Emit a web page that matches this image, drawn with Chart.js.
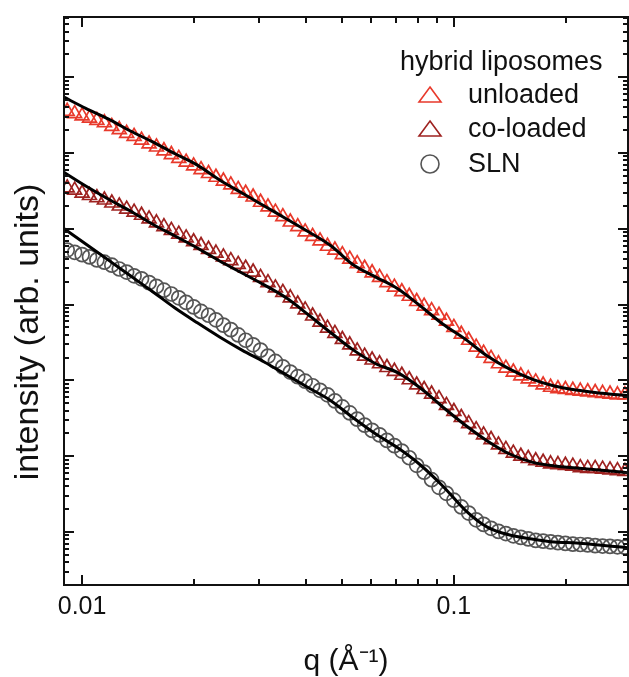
<!DOCTYPE html>
<html>
<head>
<meta charset="utf-8">
<script src="https://cdn.jsdelivr.net/npm/chart.js@4.4.1/dist/chart.umd.min.js"></script>
<style>
  body { margin: 0; background: #fff; }
  canvas { display: block; }
</style>
</head>
<body>
<canvas id="saxsChart" width="629" height="677"></canvas>
<script>
// measured points (q in 1/A, intensity in arb. units)
const qData = [0.00912, 0.00955, 0.0100, 0.01047, 0.01096, 0.01148, 0.01202, 0.01259, 0.01318, 0.01380,
    0.01445, 0.01514, 0.01585, 0.01660, 0.01738, 0.01820, 0.01905, 0.01995, 0.02089, 0.02188,
    0.02291, 0.02399, 0.02512, 0.02630, 0.02754, 0.02884, 0.03020, 0.03162, 0.03311, 0.03467,
    0.03631, 0.03802, 0.03981, 0.04169, 0.04365, 0.04571, 0.04786, 0.05012, 0.05248, 0.05495,
    0.05754, 0.06026, 0.06310, 0.06607, 0.06918, 0.07244, 0.07586, 0.07943, 0.08318, 0.08710,
    0.09120, 0.09550, 0.1000, 0.1047, 0.1096, 0.1148, 0.1202, 0.1259, 0.1318, 0.1380,
    0.1445, 0.1514, 0.1585, 0.1660, 0.1738, 0.1820, 0.1905, 0.1995, 0.2089, 0.2188,
    0.2291, 0.2399, 0.2512, 0.2630, 0.2754, 0.2884]

const unloadedI = [3.55e5, 3.31e5, 3.09e5, 2.88e5, 2.69e5, 2.51e5, 2.24e5, 2.04e5, 1.82e5, 1.66e5,
    1.48e5, 1.32e5, 1.20e5, 1.07e5, 9.55e4, 8.51e4, 7.59e4, 6.76e4, 6.03e4, 5.37e4,
    4.79e4, 4.27e4, 3.80e4, 3.31e4, 2.95e4, 2.63e4, 2.24e4, 1.95e4, 1.66e4, 1.45e4,
    1.23e4, 1.07e4, 9.12e3, 7.94e3, 6.92e3, 5.89e3, 5.25e3, 4.57e3, 3.98e3, 3.47e3,
    3.02e3, 2.63e3, 2.29e3, 1.95e3, 1.70e3, 1.48e3, 1.29e3, 1.10e3, 955, 832,
    724, 603, 501, 407, 339, 275, 229, 195, 166, 145,
    129, 115, 105, 95.5, 87.1, 81.3, 77.6, 75.9, 74.1, 72.4,
    70.8, 69.2, 67.6, 66.1, 64.6, 64.6]

const coloadedI = [3.47e4, 3.24e4, 2.95e4, 2.75e4, 2.57e4, 2.40e4, 2.19e4, 2.00e4, 1.82e4, 1.66e4,
    1.51e4, 1.35e4, 1.20e4, 1.07e4, 9.55e3, 8.51e3, 7.59e3, 6.76e3, 6.03e3, 5.37e3,
    4.79e3, 4.27e3, 3.80e3, 3.39e3, 3.02e3, 2.69e3, 2.29e3, 1.95e3, 1.66e3, 1.45e3,
    1.23e3, 1.02e3, 851, 708, 589, 490, 417, 347, 295, 245,
    209, 186, 166, 148, 132, 117, 102, 87.1, 75.9, 66.1,
    57.5, 46.8, 38.9, 32.4, 26.9, 22.4, 19.1, 16.6, 14.1, 12.3,
    11.0, 10.0, 9.33, 8.71, 8.32, 7.94, 7.76, 7.59, 7.41, 7.08,
    6.92, 6.92, 6.76, 6.61, 6.46, 6.31]

const slnI = [5.25e3, 4.90e3, 4.57e3, 4.27e3, 3.89e3, 3.63e3, 3.31e3, 2.95e3, 2.69e3, 2.40e3,
    2.19e3, 1.95e3, 1.74e3, 1.55e3, 1.38e3, 1.23e3, 1.07e3, 933, 813, 724,
    631, 537, 468, 398, 339, 295, 251, 209, 178, 151,
    129, 112, 97.7, 85.1, 74.1, 64.6, 53.7, 44.7, 37.2, 30.9,
    25.7, 21.9, 19.1, 16.2, 13.8, 11.7, 9.55, 7.59, 6.17, 4.90,
    3.89, 3.24, 2.63, 2.14, 1.78, 1.45, 1.26, 1.12, 1.02, 0.955,
    0.891, 0.851, 0.813, 0.776, 0.759, 0.741, 0.724, 0.708, 0.692, 0.684,
    0.676, 0.661, 0.653, 0.646, 0.638, 0.631]

// model fits
const qFit = [0.00891, 0.01023, 0.01175, 0.01349, 0.01549, 0.01778, 0.02042, 0.02344, 0.02692, 0.03090,
    0.03548, 0.04074, 0.04677, 0.05370, 0.06166, 0.07079, 0.08128, 0.09333, 0.1072, 0.1230,
    0.1413, 0.1622, 0.1862, 0.2138, 0.2455, 0.2818, 0.3020]

const unloadedFit = [5.50e5, 3.89e5, 2.82e5, 1.95e5, 1.40e5, 9.77e4, 6.92e4, 4.41e4, 2.97e4, 2.00e4,
    1.35e4, 9.08e3, 5.93e3, 3.33e3, 2.31e3, 1.61e3, 959, 555, 352, 210,
    141, 104, 84.5, 74.6, 68.2, 64.2, 62.3]

const coloadedFit = [5.62e4, 3.67e4, 2.47e4, 1.72e4, 1.15e4, 8.04e3, 5.58e3, 3.76e3, 2.61e3, 1.82e3,
    1.22e3, 724, 422, 251, 166, 126, 79.4, 44.6, 25.8, 15.9,
    10.7, 8.37, 7.43, 6.99, 6.58, 6.19, 6.0]

const slnFit = [1.02e4, 6.31e3, 3.89e3, 2.40e3, 1.48e3, 902, 575, 374, 251, 175,
    118, 79.4, 53.7, 31.9, 19.6, 12.8, 7.66, 4.05, 1.95, 1.16,
    0.912, 0.809, 0.738, 0.716, 0.673, 0.634, 0.615]

const xLabels = { 0.01: '0.01', 0.1: '0.1' }
const legendTitle = 'hybrid liposomes'

const FONT = "'Liberation Sans', Arial, sans-serif"
const RED = '#e8392b'
const DARK_RED = '#9e2220'
const GREY = '#555555'

const toPoints = (xs, ys) => xs.map((q, i) => ({ x: q, y: ys[i] }))

function tickKind(v) {
    const e = Math.floor(Math.log10(v) + 1e-9)
    const m = v / Math.pow(10, e)
    const r = Math.round(m)
    if (Math.abs(m - r) > 1e-6 || r < 1 || r > 9) return null
    return r === 1 ? 'major' : 'minor'
}

function labelFor(v) {
    for (const k in xLabels) {
        if (Math.abs(v - Number(k)) < Number(k) * 1e-6) return xLabels[k]
    }
    return ''
}

// frame and inward ticks on all four sides
const frameTicks = {
    id: 'frameTicks',
    afterDatasetsDraw(chart) {
        const { ctx, chartArea: a, scales: { x, y } } = chart
        ctx.save()
        ctx.strokeStyle = '#111'
        ctx.lineWidth = 2
        ctx.beginPath()
        x.ticks.forEach(t => {
            const kind = tickKind(t.value)
            if (!kind) return
            const px = Math.round(x.getPixelForValue(t.value))
            if (px <= a.left || px >= a.right) return
            const len = kind === 'major' ? 10 : 6
            ctx.moveTo(px, a.bottom)
            ctx.lineTo(px, a.bottom - len)
            ctx.moveTo(px, a.top)
            ctx.lineTo(px, a.top + len)
        })
        y.ticks.forEach(t => {
            const kind = tickKind(t.value)
            if (!kind) return
            const py = Math.round(y.getPixelForValue(t.value))
            if (py <= a.top || py >= a.bottom) return
            const len = kind === 'major' ? 10 : 5
            ctx.moveTo(a.left, py)
            ctx.lineTo(a.left + len, py)
            ctx.moveTo(a.right, py)
            ctx.lineTo(a.right - len, py)
        })
        ctx.stroke()
        ctx.strokeRect(a.left, a.top, a.right - a.left, a.bottom - a.top)
        ctx.restore()
    }
}

// y title and legend box inside the plot
const annotations = {
    id: 'annotations',
    afterDraw(chart) {
        const { ctx } = chart
        const ds = chart.data.datasets
        ctx.save()
        ctx.fillStyle = '#111'
        ctx.font = `34px ${FONT}`
        ctx.textAlign = 'center'
        ctx.textBaseline = 'alphabetic'
        ctx.translate(38, 332)
        ctx.rotate(-Math.PI / 2)
        ctx.fillText('intensity (arb. units)', 0, 0)
        ctx.restore()

        ctx.save()
        ctx.font = `27px ${FONT}`
        ctx.fillStyle = '#111'
        ctx.textAlign = 'left'
        ctx.textBaseline = 'alphabetic'
        ctx.fillText(legendTitle, 400, 70)
        const rows = [103, 137, 172]
        ds.filter(d => d.inLegend).forEach((d, i) => {
            const yb = rows[i]
            const cx = 430
            ctx.strokeStyle = d.borderColor
            ctx.lineWidth = 1.6
            ctx.beginPath()
            if (d.pointStyle === 'triangle') {
                ctx.moveTo(cx, yb - 16)
                ctx.lineTo(cx + 11, yb - 1)
                ctx.lineTo(cx - 11, yb - 1)
                ctx.closePath()
            } else {
                ctx.arc(cx, yb - 8, 9, 0, Math.PI * 2)
            }
            ctx.stroke()
            ctx.fillStyle = '#111'
            ctx.fillText(d.label, 468, yb)
        })
        ctx.restore()
    }
}

const markerStyle = (label, color, style, radius, data) => ({
    label: label,
    data: data,
    inLegend: true,
    showLine: false,
    pointStyle: style,
    pointRadius: radius,
    pointBorderWidth: 1.7,
    pointBackgroundColor: 'rgba(0,0,0,0)',
    borderColor: color,
    backgroundColor: 'rgba(0,0,0,0)',
    clip: 0,
    order: 2
})

const fitStyle = data => ({
    label: 'fit',
    data: data,
    showLine: true,
    borderColor: '#000',
    borderWidth: 3,
    pointRadius: 0,
    cubicInterpolationMode: 'monotone',
    clip: 0,
    order: 1
})

const ctx = document.getElementById('saxsChart').getContext('2d')
const chart = new Chart(ctx, {
    type: 'scatter',
    data: {
        datasets: [
            markerStyle('unloaded', RED, 'triangle', 8, toPoints(qData, unloadedI)),
            markerStyle('co-loaded', DARK_RED, 'triangle', 8, toPoints(qData, coloadedI)),
            markerStyle('SLN', GREY, 'circle', 7, toPoints(qData, slnI)),
            fitStyle(toPoints(qFit, unloadedFit)),
            fitStyle(toPoints(qFit, coloadedFit)),
            fitStyle(toPoints(qFit, slnFit))
        ]
    },
    options: {
        responsive: false,
        animation: false,
        devicePixelRatio: 1,
        layout: { autoPadding: false, padding: { top: 17, right: 1, left: 0, bottom: 0 } },
        plugins: {
            legend: { display: false },
            tooltip: { enabled: false }
        },
        scales: {
            x: {
                type: 'logarithmic',
                min: 0.00894,
                max: 0.294,
                border: { display: false },
                grid: { display: false, drawTicks: false },
                ticks: {
                    autoSkip: false,
                    maxRotation: 0,
                    padding: 7,
                    color: '#111',
                    font: { family: FONT, size: 25 },
                    callback: v => labelFor(v)
                },
                title: {
                    display: true,
                    text: 'q (Å⁻¹)',
                    color: '#111',
                    font: { family: FONT, size: 30, lineHeight: 1 },
                    padding: { top: 0, bottom: 0 }
                },
                afterFit: scale => {
                    scale.height = 92
                    scale.paddingLeft = 0
                    scale.paddingRight = 0
                }
            },
            y: {
                type: 'logarithmic',
                min: 0.2,
                max: 6.23e6,
                border: { display: false },
                grid: { display: false, drawTicks: false },
                ticks: { display: false },
                afterFit: scale => {
                    scale.width = 64
                    scale.paddingTop = 0
                    scale.paddingBottom = 0
                }
            }
        }
    },
    plugins: [frameTicks, annotations]
})
</script>
</body>
</html>
